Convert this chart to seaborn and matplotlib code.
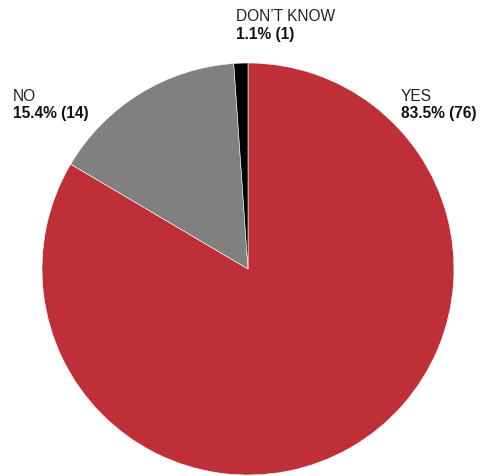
import matplotlib
matplotlib.use('Agg')
import matplotlib.pyplot as plt
import seaborn as sns

# =============================================================================
# Data
# =============================================================================
labels = ['YES', 'NO', 'DON\u2019T KNOW']
shares = [83.5, 15.4, 1.1]
counts = [76, 14, 1]
colors = ['#be2f38', '#808080', '#000000']

# label baselines (pixels from top-left): name line, value line
label_pos = [(401, 101, 118), (13, 101, 118), (236, 21, 39)]

sns.set_theme(style='white')
plt.rcParams['font.family'] = ['Liberation Sans', 'DejaVu Sans']

fig = plt.figure(figsize=(4.8, 4.76), dpi=100)
W, H = 480, 476
cx, cy, r = 248, 269, 206
ax = fig.add_axes([(cx - r) / W, (H - cy - r) / H, 2 * r / W, 2 * r / H])

ax.pie(shares, colors=colors, startangle=90, counterclock=False,
       radius=1, wedgeprops=dict(edgecolor='white', linewidth=0.4))
ax.set_xlim(-1, 1)
ax.set_ylim(-1, 1)
ax.set_aspect('equal')
ax.axis('off')

for lab, s, c, (x, y1, y2) in zip(labels, shares, counts, label_pos):
    fig.text(x / W, 1 - y1 / H, lab, ha='left', va='baseline',
             fontsize=11.2, color='#222222')
    fig.text(x / W, 1 - y2 / H, f'{s}% ({c})', ha='left', va='baseline',
             fontsize=11.2, fontweight='bold', color='#111111')

fig.savefig('out.png', dpi=100)
